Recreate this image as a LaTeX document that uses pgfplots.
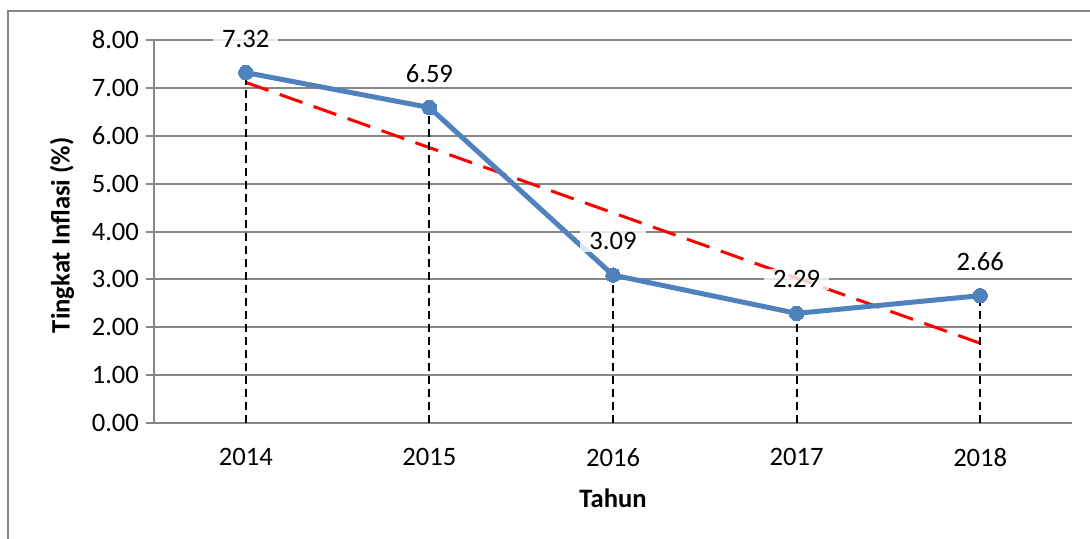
\documentclass[border=0pt]{standalone}
\usepackage{pgfplots}
\pgfplotsset{compat=1.18}
\usepackage{fontspec}
\setmainfont{Carlito}
\definecolor{gridgray}{RGB}{134,134,134}
\definecolor{xlblue}{RGB}{79,129,189}
\newcommand{\lblfont}{\fontsize{13.3}{16}\selectfont}

\begin{document}
\begin{tikzpicture}
% page = the visible part of the chart area
\useasboundingbox (-77pt,-58pt) rectangle (468pt,211.5pt);
\draw[gridgray, line width=0.75pt] (-73pt,-60pt) -- (-73pt,206pt) -- (470pt,206pt);
\begin{axis}[
  at={(0,0)}, anchor=south west,
  scale only axis, width=459pt, height=191.5pt,
  xmin=-0.5, xmax=4.5, ymin=0, ymax=8,
  xtick={0,...,4}, xticklabels={2014,2015,2016,2017,2018},
  ytick={0,1,...,8},
  axis x line*=bottom, axis y line*=left,
  axis line style={gridgray, line width=1pt, -},
  ymajorgrids, grid style={gridgray, line width=1pt},
  tick align=outside, major tick length=4pt,
  ytick style={gridgray, line width=1pt},
  xtick style={draw=none},
  tick label style={font=\lblfont},
  yticklabel style={/pgf/number format/.cd, fixed, fixed zerofill, precision=2, assume math mode=true},
  xticklabel style={yshift=-5pt},
  xlabel={\textbf{Tahun}}, ylabel={\textbf{Tingkat Inflasi (\%)}},
  label style={font=\lblfont},
  xlabel style={at={(axis description cs:0.5,-0.196)}, anchor=center},
  ylabel style={at={(axis description cs:-0.1002,0.49)}, anchor=center},
  clip=false,
]
  % linear trend
  \addplot[red, line width=1.5pt, dash pattern=on 12pt off 6pt] coordinates {
    (0,7.114) (1,5.752) (2,4.390) (3,3.028) (4,1.666)
  };
  % drop lines
  \addplot[ycomb, black, line width=1pt, dash pattern=on 4pt off 2.5pt, mark=none] coordinates {
    (0,7.32) (1,6.59) (2,3.09) (3,2.29) (4,2.66)
  };
  % inflation
  \addplot[xlblue, line width=2.5pt, line join=round, mark=*, mark size=3.6pt,
    mark options={solid, fill=xlblue, line width=0pt},
    point meta=y,
    nodes near coords={\pgfmathprintnumber[fixed,fixed zerofill,precision=2,assume math mode=true]{\pgfplotspointmeta}},
    nodes near coords align={center},
    every node near coord/.append style={yshift=17pt, fill=white, fill opacity=0.8, text opacity=1,
      text=black, inner xsep=4.5pt, inner ysep=1pt, font=\lblfont}
  ] coordinates {
    (0,7.32) (1,6.59) (2,3.09) (3,2.29) (4,2.66)
  };
\end{axis}
\end{tikzpicture}
\end{document}
